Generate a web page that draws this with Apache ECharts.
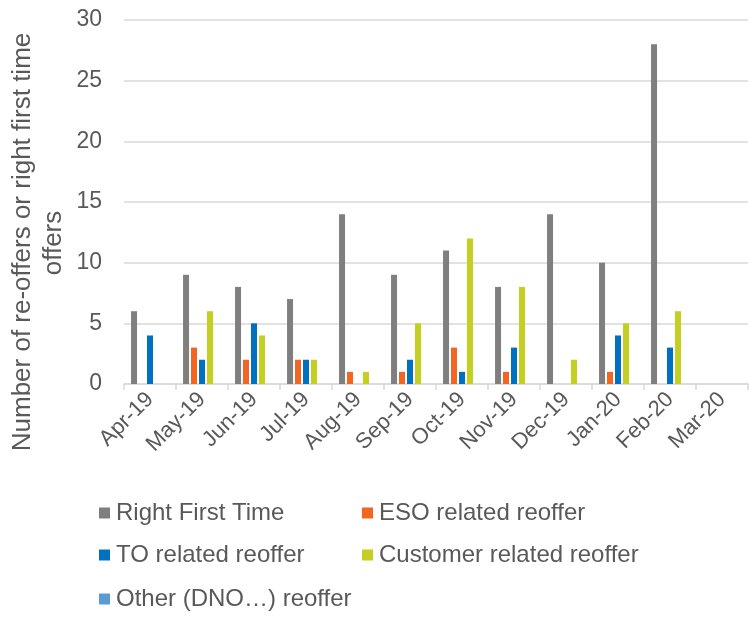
<!DOCTYPE html>
<html>
<head>
<meta charset="utf-8">
<script src="https://cdn.jsdelivr.net/npm/echarts@6/dist/echarts.min.js"></script>
<style>
  html, body { margin: 0; padding: 0; background: #fff; }
  #chart { width: 749px; height: 618px; }
</style>
</head>
<body>
<div id="chart"></div>
<script>
// Monthly offers: right first time vs. re-offers by cause
const months = ['Apr-19', 'May-19', 'Jun-19', 'Jul-19', 'Aug-19', 'Sep-19',
                'Oct-19', 'Nov-19', 'Dec-19', 'Jan-20', 'Feb-20', 'Mar-20'];
const rightFirstTime   = [6, 9, 8, 7, 14, 9, 11, 8, 14, 10, 28, 0];
const esoReoffer       = [0, 3, 2, 2, 1, 1, 3, 1, 0, 1, 0, 0];
const toReoffer        = [4, 2, 5, 2, 0, 2, 1, 3, 0, 4, 3, 0];
const customerReoffer  = [0, 6, 4, 2, 1, 5, 12, 8, 2, 5, 6, 0];
const otherReoffer     = [0, 0, 0, 0, 0, 0, 0, 0, 0, 0, 0, 0];
const yTicks = [0, 5, 10, 15, 20, 25, 30];

const seriesDefs = [
  { name: 'Right First Time', data: rightFirstTime, color: '#7f7f7f' },
  { name: 'ESO related reoffer', data: esoReoffer, color: '#f26522' },
  { name: 'TO related reoffer', data: toReoffer, color: '#0070c0' },
  { name: 'Customer related reoffer', data: customerReoffer, color: '#c3cf21' },
  { name: 'Other (DNO\u2026) reoffer', data: otherReoffer, color: '#5b9bd5' }
];

const font = 'Liberation Sans, Arial, sans-serif';
const textColor = '#595959';

// legend laid out as a two-column grid: [seriesIndex, left, top]
const legendSlots = [[0, 99, 501], [1, 362, 501], [2, 99, 543], [3, 362, 543], [4, 99, 587]];

const chart = echarts.init(document.getElementById('chart'), null, { renderer: 'canvas' });
chart.setOption({
  animation: false,
  color: seriesDefs.map(s => s.color),
  grid: { left: 124, right: 1, top: 20, bottom: 234, containLabel: false },
  legend: legendSlots.map(([i, left, top]) => ({
    left, top,
    padding: 0,
    icon: 'rect',
    itemWidth: 11,
    itemHeight: 11,
    selectedMode: false,
    data: [seriesDefs[i].name],
    textStyle: { fontFamily: font, fontSize: 24, color: textColor, padding: [0, 0, 0, 1] }
  })),
  graphic: [
    {
      type: 'text', x: 23, y: 242, rotation: Math.PI / 2,
      style: { text: 'Number of re-offers or right first time', fontFamily: font, fontSize: 26,
               fill: textColor, align: 'center', verticalAlign: 'middle' }
    },
    {
      type: 'text', x: 54, y: 243, rotation: Math.PI / 2,
      style: { text: 'offers', fontFamily: font, fontSize: 26,
               fill: textColor, align: 'center', verticalAlign: 'middle' }
    }
  ],
  xAxis: {
    type: 'category',
    data: months,
    axisLine: { lineStyle: { color: '#d9d9d9', width: 1.5 } },
    axisTick: { show: true, length: 6, lineStyle: { color: '#d9d9d9', width: 1.5 } },
    axisLabel: { rotate: 45, fontFamily: font, fontSize: 22, color: textColor, margin: 12, interval: 0 }
  },
  yAxis: {
    type: 'value',
    min: yTicks[0],
    max: yTicks[yTicks.length - 1],
    interval: 5,
    axisLine: { show: false },
    axisTick: { show: false },
    splitLine: { lineStyle: { color: '#d9d9d9', width: 1.5 } },
    axisLabel: { fontFamily: font, fontSize: 23, color: textColor, margin: 22 }
  },
  series: seriesDefs.map(s => ({
    name: s.name,
    type: 'bar',
    data: s.data,
    barWidth: 6,
    barGap: '33%',
    itemStyle: { color: s.color }
  }))
});
</script>
</body>
</html>
